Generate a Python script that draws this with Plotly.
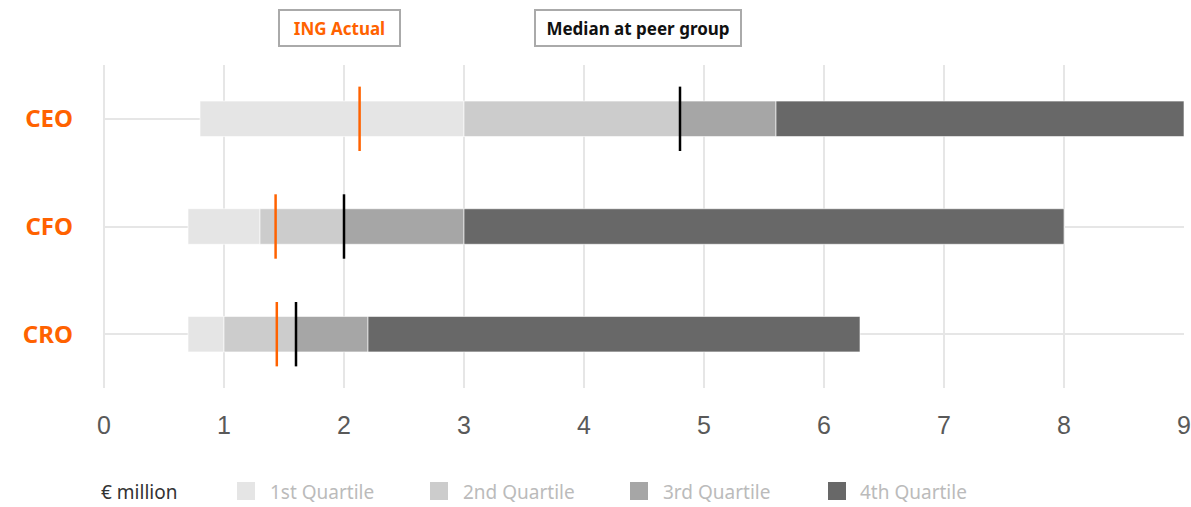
import plotly.graph_objects as go

roles = ["CEO", "CFO", "CRO"]
q_start = [0.8, 0.7, 0.7]
q1_end = [3.0, 1.3, 1.0]
q2_end = [4.8, 2.0, 1.6]
q3_end = [5.6, 3.0, 2.2]
q4_end = [9.0, 8.0, 6.3]
ing_actual = [2.13, 1.43, 1.44]
peer_median = [4.8, 2.0, 1.6]

quartile_names = ["1st Quartile", "2nd Quartile", "3rd Quartile", "4th Quartile"]
quartile_colors = ["#e5e5e5", "#cccccc", "#a6a6a6", "#686868"]
ORANGE = "#ff6200"

bounds = [q_start, q1_end, q2_end, q3_end, q4_end]

fig = go.Figure()
for i in range(4):
    lo, hi = bounds[i], bounds[i + 1]
    fig.add_trace(go.Bar(
        y=roles, x=[h - l for l, h in zip(lo, hi)], base=lo,
        orientation="h", name=quartile_names[i],
        marker=dict(color=quartile_colors[i], line=dict(color="rgba(255,255,255,0.6)", width=1)),
        width=0.33, showlegend=False, hoverinfo="skip",
    ))

fig.add_trace(go.Scatter(
    y=roles, x=ing_actual, mode="markers", name="ING Actual",
    marker=dict(symbol="line-ns", size=46, line=dict(color=ORANGE, width=2.5)),
    showlegend=False,
))
fig.add_trace(go.Scatter(
    y=roles, x=peer_median, mode="markers", name="Median at peer group",
    marker=dict(symbol="line-ns", size=46, line=dict(color="#000000", width=2.5)),
    showlegend=False,
))

fig.update_layout(
    width=1191, height=507,
    margin=dict(l=104, r=7, t=65, b=119),
    paper_bgcolor="white", plot_bgcolor="white",
    barmode="overlay",
    font=dict(family="Noto Sans"),
    xaxis=dict(
        range=[0, 9], dtick=1, showgrid=True, gridcolor="#e6e6e6", gridwidth=2,
        zeroline=True, zerolinecolor="#e6e6e6", zerolinewidth=2,
        showline=False, ticks="", automargin=False,
        tickfont=dict(family="Liberation Sans", size=25, color="#595959"),
        ticklabelstandoff=20,
    ),
    yaxis=dict(
        categoryorder="array", categoryarray=roles,
        autorange=False, range=[2.5, -0.5],
        showgrid=True, gridcolor="#e6e6e6", gridwidth=2,
        showline=False, ticks="", automargin=False,
        tickfont=dict(family="Noto Sans", size=24, color=ORANGE, weight="bold"),
        ticklabelstandoff=30,
    ),
)

def py(px):
    return (388 - px) / 323.0

def pxx(px):
    return (px - 104) / 1080.0

# top legend boxes
fig.add_annotation(xref="paper", yref="paper", x=pxx(339.5), y=py(28),
                   text="<b>ING Actual</b>", showarrow=False,
                   font=dict(size=17, color=ORANGE, family="Noto Sans"),
                   bordercolor="#aaaaaa", borderwidth=2, width=117, height=32,
                   xanchor="center", yanchor="middle", bgcolor="white")
fig.add_annotation(xref="paper", yref="paper", x=pxx(638), y=py(28),
                   text="<b>Median at peer group</b>", showarrow=False,
                   font=dict(size=17, color="#111111", family="Noto Sans"),
                   bordercolor="#aaaaaa", borderwidth=2, width=202, height=32,
                   xanchor="center", yanchor="middle", bgcolor="white")

# bottom legend
fig.add_annotation(xref="paper", yref="paper", x=pxx(99), y=py(492),
                   text="€ million", showarrow=False, xanchor="left", yanchor="middle",
                   font=dict(size=19, color="#333333", family="Noto Sans"))
sq_x = [237, 430, 630, 828]
txt_x = [268, 461, 661, 858]
for i in range(4):
    fig.add_shape(type="rect", xref="paper", yref="paper",
                  x0=pxx(sq_x[i]), x1=pxx(sq_x[i] + 18), y0=py(500), y1=py(482),
                  fillcolor=quartile_colors[i], line=dict(width=0))
    fig.add_annotation(xref="paper", yref="paper", x=pxx(txt_x[i]), y=py(492),
                       text=quartile_names[i], showarrow=False, xanchor="left", yanchor="middle",
                       font=dict(size=19, color="#bbbbbb", family="Noto Sans"))

fig.write_html("out.html")
